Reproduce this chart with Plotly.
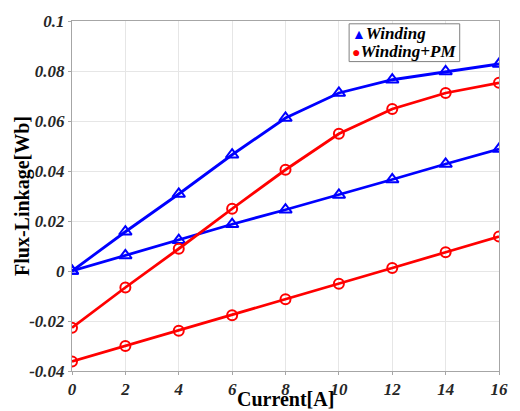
import plotly.graph_objects as go

current = [0, 2, 4, 6, 8, 10, 12, 14, 16]
winding_a = [0.0, 0.0157, 0.0308, 0.0465, 0.0612, 0.0712, 0.0765, 0.0798, 0.0828]
winding_b = [0.0, 0.0062, 0.0123, 0.0187, 0.0245, 0.0304, 0.0366, 0.0428, 0.0488]
pm_a = [-0.0227, -0.0066, 0.0089, 0.0249, 0.0405, 0.0549, 0.0648, 0.0712, 0.0753]
pm_b = [-0.0362, -0.0300, -0.0239, -0.0177, -0.0113, -0.0051, 0.0012, 0.0075, 0.0138]

x_ticks = [0, 2, 4, 6, 8, 10, 12, 14, 16]
y_ticks = [-0.04, -0.02, 0, 0.02, 0.04, 0.06, 0.08, 0.1]
y_tick_text = ["-0.04", "-0.02", "0", "0.02", "0.04", "0.06", "0.08", "0.1"]

legend_names = ["Winding", "Winding+PM"]
legend_glyphs = ["▲", "●"]

FONT = "Liberation Serif"
BLUE = "#0000ff"
RED = "#ff0000"

fig = go.Figure()

def add_series(y, color, symbol, size):
    fig.add_trace(go.Scatter(
        x=current, y=y, mode="lines+markers", showlegend=False,
        line=dict(color=color, width=2.8),
        marker=dict(symbol=symbol, size=size, color=color,
                    line=dict(color=color, width=2)),
    ))

add_series(winding_a, BLUE, "triangle-up-open", 11)
add_series(winding_b, BLUE, "triangle-up-open", 11)
add_series(pm_a, RED, "circle-open", 10)
add_series(pm_b, RED, "circle-open", 10)

axis_common = dict(
    showgrid=True, gridcolor="#e6e6e6", gridwidth=1,
    showline=True, linecolor="#a6a6a6", linewidth=1, mirror=True,
    ticks="outside", ticklen=3, tickcolor="#a6a6a6",
    tickfont=dict(family=FONT, size=17, color="#262626"),
    zeroline=False,
)

fig.update_xaxes(range=[0, 16], tickvals=x_ticks,
                 ticktext=[f"<b><i>{v}</i></b>" for v in x_ticks], **axis_common)
fig.update_yaxes(range=[-0.04, 0.1], tickvals=y_ticks,
                 ticktext=[f"<b><i>{t}</i></b>" for t in y_tick_text], **axis_common)

fig.add_annotation(text="<b>Current[A]</b>", xref="paper", yref="paper",
                   x=0.5, y=0, yshift=-28, xanchor="center", yanchor="middle",
                   showarrow=False, font=dict(family=FONT, size=20, color="black"))
fig.add_annotation(text="<b>Flux-Linkage[Wb]</b>", xref="paper", yref="paper",
                   x=0, xshift=-50, y=0.5, xanchor="center", yanchor="middle",
                   textangle=-90, showarrow=False,
                   font=dict(family=FONT, size=20, color="black"))

# legend box with symbol + label rows
fig.add_shape(type="rect", xref="paper", yref="paper",
              x0=0.649, x1=0.908, y0=0.884, y1=0.992,
              fillcolor="white", line=dict(color="#808080", width=1), layer="above")
for i, (name, glyph, color) in enumerate(zip(legend_names, legend_glyphs, [BLUE, RED])):
    fig.add_annotation(
        text=f"<span style='font-size:14px;color:{color}'>{glyph}</span><b><i>{name}</i></b>",
        xref="paper", yref="paper", x=0.651, y=0.964 - i * 0.05,
        xanchor="left", yanchor="middle", showarrow=False,
        font=dict(family=FONT, size=17, color="black"))

fig.update_layout(
    width=520, height=411,
    margin=dict(l=72, r=15, t=15, b=35),
    paper_bgcolor="white", plot_bgcolor="white",
    showlegend=False,
)

fig.write_html("out.html")
